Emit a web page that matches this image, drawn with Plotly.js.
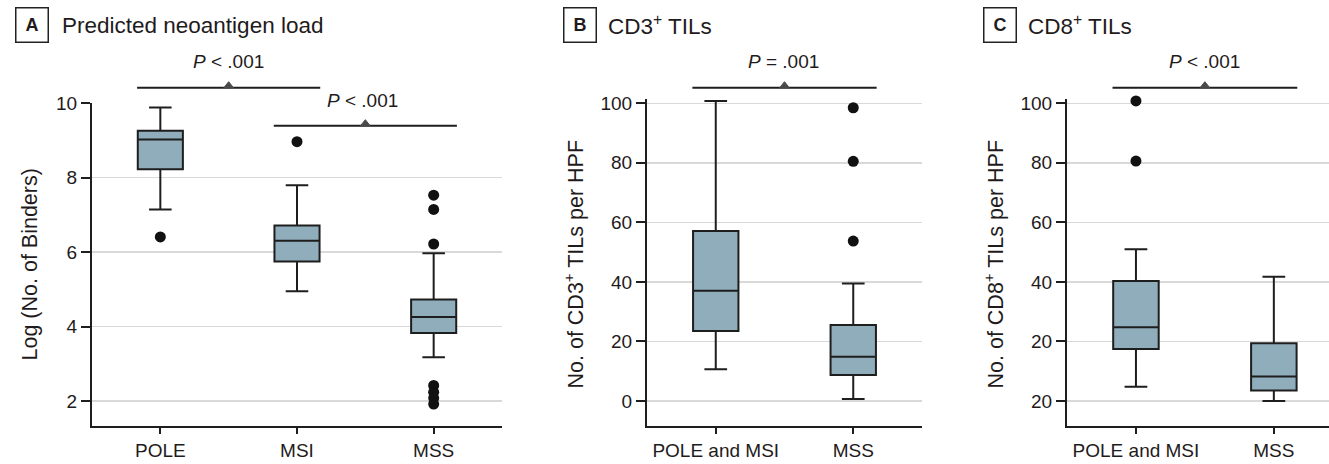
<!DOCTYPE html>
<html><head><meta charset="utf-8">
<script src="https://cdn.plot.ly/plotly-3.0.1.min.js"></script>
<style>html,body{margin:0;padding:0;background:#fff}#chart{width:1329px;height:464px}</style>
</head><body><div id="chart"></div>
<script>
// ---------- Data ----------
// Panel A: Predicted neoantigen load
const catsA = ['POLE', 'MSI', 'MSS'];
const q1A = [8.23, 5.75, 3.83];
const medA = [9.03, 6.31, 4.26];
const q3A = [9.26, 6.72, 4.73];
const loA = [7.15, 4.95, 3.18];
const hiA = [9.89, 7.80, 5.97];
const outXA = ['POLE', 'MSI', 'MSS', 'MSS', 'MSS', 'MSS', 'MSS', 'MSS', 'MSS'];
const outYA = [6.41, 8.97, 7.53, 7.15, 6.22, 2.42, 2.24, 2.08, 1.92];
const ticksA = [2, 4, 6, 8, 10];

// Panel B: CD3+ TILs
const catsB = ['POLE and MSI', 'MSS'];
const q1B = [23.5, 8.7];
const medB = [37.0, 14.9];
const q3B = [57.1, 25.5];
const loB = [10.7, 0.7];
const hiB = [100.8, 39.5];
const outXB = ['MSS', 'MSS', 'MSS'];
const outYB = [98.5, 80.5, 53.7];
const ticksB = [0, 20, 40, 60, 80, 100];

// Panel C: CD8+ TILs
const catsC = ['POLE and MSI', 'MSS'];
const q1C = [17.5, 3.5];
const medC = [24.8, 8.2];
const q3C = [40.3, 19.4];
const loC = [4.8, 0.0];
const hiC = [51.0, 41.7];
const outXC = ['POLE and MSI', 'POLE and MSI'];
const outYC = [100.8, 80.6];
const ticksC = [0, 20, 40, 60, 80, 100];
const tickTextC = ['20', '20', '40', '60', '80', '100'];

// P-value labels
const pA1 = '<i>P</i> < .001';
const pA2 = '<i>P</i> < .001';
const pB = '<i>P</i> = .001';
const pC = '<i>P</i> < .001';

// ---------- Styling ----------
const W = 1329, H = 464;
const FONT = '"Liberation Sans", Arial, sans-serif';
const TXT = '#1f1b1c';
const BOXFILL = '#8fadbb';
const LINE = '#1e1e1e';
const GRID = '#d9d9d9';
const px = v => v / W;
const py = v => (H - v) / H;

function boxTrace(cats, q1, med, q3, lo, hi, xa, ya) {
  return {
    type: 'box', x: cats, q1: q1, median: med, q3: q3,
    lowerfence: lo, upperfence: hi, xaxis: xa, yaxis: ya,
    width: 0.33, whiskerwidth: 0.5, boxpoints: false,
    fillcolor: BOXFILL, line: { color: LINE, width: 2 },
    hoverinfo: 'skip', showlegend: false
  };
}
function outTrace(xs, ys, xa, ya) {
  return {
    type: 'scatter', mode: 'markers', x: xs, y: ys, xaxis: xa, yaxis: ya,
    marker: { color: '#111', size: 11 }, cliponaxis: false,
    hoverinfo: 'skip', showlegend: false
  };
}

const data = [
  boxTrace(catsA, q1A, medA, q3A, loA, hiA, 'x', 'y'),
  outTrace(outXA, outYA, 'x', 'y'),
  boxTrace(catsB, q1B, medB, q3B, loB, hiB, 'x2', 'y2'),
  outTrace(outXB, outYB, 'x2', 'y2'),
  boxTrace(catsC, q1C, medC, q3C, loC, hiC, 'x3', 'y3'),
  outTrace(outXC, outYC, 'x3', 'y3')
];

const xBase = {
  showline: true, linecolor: LINE, linewidth: 2, mirror: false,
  ticks: 'outside', ticklen: 6, tickwidth: 2, tickcolor: LINE,
  showgrid: false, zeroline: false, fixedrange: true,
  tickfont: { family: FONT, size: 19, color: TXT }, type: 'category'
};
const yBase = {
  showline: true, linecolor: LINE, linewidth: 2,
  ticks: 'outside', ticklen: 9, tickwidth: 2, tickcolor: LINE,
  showgrid: true, gridcolor: GRID, gridwidth: 1.5, zeroline: false, fixedrange: true,
  tickfont: { family: FONT, size: 19, color: TXT }, tickmode: 'array'
};

// brackets: line + small triangle
const shapes = [];
function bracket(xref, xa, xb, yPix) {
  const y = py(yPix);
  shapes.push({ type: 'line', xref: xref, yref: 'paper', x0: xa - 0.17, x1: xb + 0.17, y0: y, y1: y,
    line: { color: LINE, width: 2 } });
  const xm = (xa + xb) / 2, dx = 0.035, dy = 6 / H;
  shapes.push({ type: 'path', xref: xref, yref: 'paper',
    path: `M ${xm - dx},${y} L ${xm + dx},${y} L ${xm},${y + dy} Z`,
    fillcolor: '#4a4a4a', line: { color: '#4a4a4a', width: 1 } });
}
bracket('x', 0, 1, 87.7);
bracket('x', 1, 2, 125.7);
bracket('x2', 0, 1, 87.7);
bracket('x3', 0, 1, 87.7);

const annFont = (s, extra) => Object.assign({ family: FONT, size: s, color: TXT }, extra || {});
const annotations = [];
function panelTitle(letter, boxX, textX, text) {
  annotations.push({ xref: 'paper', yref: 'paper', x: px(boxX), y: py(24.5), xanchor: 'center', yanchor: 'middle',
    text: '<b>' + letter + '</b>', showarrow: false, font: annFont(18),
    bordercolor: '#222', borderwidth: 1.5, borderpad: 0, width: 31, height: 33 });
  annotations.push({ xref: 'paper', yref: 'paper', x: px(textX), y: py(25), xanchor: 'left', yanchor: 'middle',
    text: text, showarrow: false, font: annFont(22.5) });
}
panelTitle('A', 31.5, 60, 'Predicted neoantigen load');
panelTitle('B', 580, 606, 'CD3<sup>+</sup> TILs');
panelTitle('C', 1000, 1026, 'CD8<sup>+</sup> TILs');

function pLabel(xref, x, yPix, text) {
  annotations.push({ xref: xref, yref: 'paper', x: x, y: py(yPix), xanchor: 'center', yanchor: 'middle',
    text: text, showarrow: false, font: annFont(19) });
}
pLabel('x', 0.5, 62, pA1);
pLabel('x', 1.48, 100, pA2);
pLabel('x2', 0.49, 62, pB);
pLabel('x3', 0.5, 62, pC);

function yTitle(xPix, text) {
  annotations.push({ xref: 'paper', yref: 'paper', x: px(xPix), y: py(264.5), xanchor: 'center', yanchor: 'middle',
    text: text, textangle: -90, showarrow: false, font: annFont(21.5) });
}
yTitle(29, 'Log (No. of Binders)');
yTitle(573, 'No. of CD3<sup>+</sup> TILs per HPF');
yTitle(993, 'No. of CD8<sup>+</sup> TILs per HPF');

const layout = {
  width: W, height: H, margin: { l: 0, r: 0, t: 0, b: 0 },
  paper_bgcolor: '#fff', plot_bgcolor: '#fff', showlegend: false,
  font: { family: FONT, color: TXT },
  xaxis: Object.assign({}, xBase, { domain: [px(92), px(502)], anchor: 'y', range: [-0.5, 2.5] }),
  yaxis: Object.assign({}, yBase, { domain: [py(426), py(103.3)], anchor: 'x', range: [1.33, 10], tickvals: ticksA }),
  xaxis2: Object.assign({}, xBase, { domain: [px(647), px(922)], anchor: 'y2', range: [-0.5, 1.5] }),
  yaxis2: Object.assign({}, yBase, { domain: [py(426), py(99.4)], anchor: 'x2', range: [-8.4, 101.3], tickvals: ticksB }),
  xaxis3: Object.assign({}, xBase, { domain: [px(1067), 1], anchor: 'y3', range: [-0.5, 1.4] }),
  yaxis3: Object.assign({}, yBase, { domain: [py(426), py(99.4)], anchor: 'x3', range: [-8.4, 101.3], tickvals: ticksC, ticktext: tickTextC }),
  shapes: shapes, annotations: annotations
};

Plotly.newPlot('chart', data, layout, { staticPlot: true, displayModeBar: false });
</script>
</body></html>
